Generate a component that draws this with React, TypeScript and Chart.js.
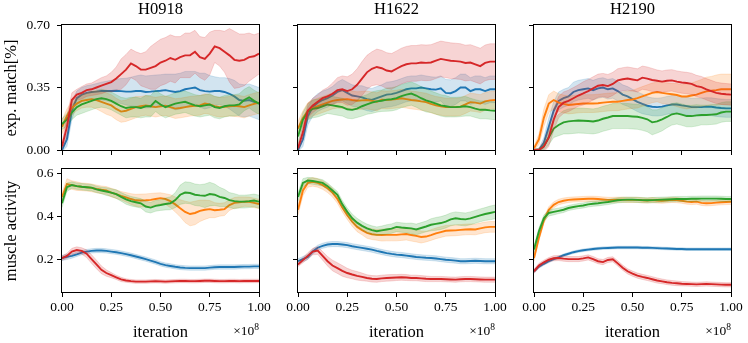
import React, { useEffect, useRef } from "react";
import { Chart, registerables } from "chart.js";
Chart.register(...registerables);

const FONT = '"Liberation Serif", "Times New Roman", serif';

const ITER = [0, 0.025, 0.05, 0.075, 0.1, 0.125, 0.15, 0.175, 0.2, 0.225, 0.25, 0.275, 0.3, 0.325, 0.35, 0.375, 0.4, 0.425, 0.45, 0.475, 0.5, 0.525, 0.55, 0.575, 0.6, 0.625, 0.65, 0.675, 0.7, 0.725, 0.75, 0.775, 0.8, 0.825, 0.85, 0.875, 0.9, 0.925, 0.95, 0.975, 1.0];
const X_TICKS = [0, 0.25, 0.5, 0.75, 1.0];
const EXP_TICKS = [0, 0.35, 0.7];
const MUSCLE_TICKS = [0.2, 0.4, 0.6];
const MODELS = ["H0918", "H1622", "H2190"];
const ROW_LABELS = ["exp. match[%]", "muscle activity"];

// ---------- H0918 exp. match ----------
const H0918_EXP_BLUE = [0.0, 0.06, 0.22, 0.29, 0.31, 0.32, 0.325, 0.327, 0.33, 0.33, 0.33, 0.332, 0.33, 0.327, 0.327, 0.33, 0.33, 0.325, 0.327, 0.33, 0.332, 0.335, 0.33, 0.325, 0.33, 0.34, 0.345, 0.35, 0.335, 0.33, 0.327, 0.33, 0.33, 0.325, 0.315, 0.3, 0.28, 0.275, 0.28, 0.27, 0.26];
const H0918_EXP_BLUE_SD = [0.01, 0.04, 0.05, 0.04, 0.04, 0.04, 0.04, 0.045, 0.05, 0.055, 0.06, 0.065, 0.07, 0.075, 0.08, 0.085, 0.09, 0.09, 0.09, 0.09, 0.09, 0.09, 0.095, 0.1, 0.1, 0.1, 0.095, 0.09, 0.095, 0.1, 0.09, 0.08, 0.075, 0.08, 0.085, 0.09, 0.09, 0.09, 0.09, 0.09, 0.09];
const H0918_EXP_ORANGE = [0.13, 0.19, 0.235, 0.26, 0.275, 0.28, 0.285, 0.28, 0.27, 0.26, 0.25, 0.23, 0.215, 0.22, 0.23, 0.24, 0.245, 0.25, 0.245, 0.24, 0.245, 0.248, 0.24, 0.232, 0.235, 0.24, 0.245, 0.248, 0.25, 0.26, 0.255, 0.245, 0.24, 0.242, 0.245, 0.248, 0.245, 0.24, 0.25, 0.258, 0.265];
const H0918_EXP_ORANGE_SD = [0.04, 0.04, 0.04, 0.04, 0.04, 0.04, 0.045, 0.05, 0.055, 0.06, 0.06, 0.06, 0.06, 0.06, 0.06, 0.06, 0.055, 0.055, 0.055, 0.055, 0.055, 0.055, 0.055, 0.055, 0.055, 0.055, 0.055, 0.055, 0.055, 0.055, 0.055, 0.055, 0.055, 0.055, 0.055, 0.06, 0.06, 0.06, 0.06, 0.06, 0.06];
const H0918_EXP_GREEN = [0.145, 0.17, 0.21, 0.24, 0.255, 0.265, 0.275, 0.285, 0.29, 0.285, 0.275, 0.26, 0.245, 0.235, 0.24, 0.24, 0.235, 0.245, 0.245, 0.275, 0.255, 0.24, 0.25, 0.26, 0.265, 0.27, 0.26, 0.25, 0.245, 0.25, 0.255, 0.24, 0.235, 0.245, 0.25, 0.25, 0.255, 0.28, 0.295, 0.275, 0.26];
const H0918_EXP_GREEN_SD = [0.03, 0.035, 0.04, 0.045, 0.05, 0.05, 0.05, 0.05, 0.05, 0.05, 0.05, 0.05, 0.05, 0.055, 0.055, 0.055, 0.055, 0.06, 0.06, 0.06, 0.06, 0.06, 0.06, 0.06, 0.06, 0.06, 0.06, 0.06, 0.06, 0.06, 0.06, 0.06, 0.06, 0.06, 0.06, 0.06, 0.06, 0.06, 0.06, 0.06, 0.06];
const H0918_EXP_RED = [0.02, 0.13, 0.28, 0.31, 0.32, 0.335, 0.34, 0.35, 0.36, 0.37, 0.38, 0.4, 0.425, 0.45, 0.485, 0.47, 0.45, 0.45, 0.46, 0.47, 0.49, 0.5, 0.515, 0.505, 0.52, 0.53, 0.53, 0.55, 0.52, 0.51, 0.54, 0.58, 0.57, 0.55, 0.53, 0.505, 0.5, 0.505, 0.52, 0.525, 0.54];
const H0918_EXP_RED_SD = [0.02, 0.06, 0.04, 0.03, 0.035, 0.035, 0.035, 0.04, 0.045, 0.045, 0.055, 0.065, 0.085, 0.085, 0.08, 0.08, 0.09, 0.1, 0.12, 0.13, 0.13, 0.13, 0.13, 0.13, 0.115, 0.125, 0.125, 0.12, 0.115, 0.12, 0.12, 0.09, 0.1, 0.115, 0.15, 0.16, 0.15, 0.145, 0.135, 0.12, 0.115];

// ---------- H1622 exp. match ----------
const H1622_EXP_BLUE = [0.0, 0.06, 0.19, 0.24, 0.265, 0.28, 0.29, 0.305, 0.325, 0.335, 0.32, 0.305, 0.3, 0.295, 0.285, 0.28, 0.29, 0.3, 0.31, 0.313, 0.32, 0.33, 0.34, 0.345, 0.345, 0.35, 0.345, 0.34, 0.338, 0.345, 0.32, 0.318, 0.33, 0.35, 0.35, 0.33, 0.34, 0.34, 0.33, 0.34, 0.34];
const H1622_EXP_BLUE_SD = [0.01, 0.04, 0.05, 0.05, 0.05, 0.05, 0.05, 0.05, 0.055, 0.06, 0.06, 0.06, 0.06, 0.065, 0.065, 0.065, 0.065, 0.065, 0.07, 0.07, 0.07, 0.07, 0.07, 0.07, 0.07, 0.07, 0.07, 0.07, 0.07, 0.07, 0.075, 0.075, 0.075, 0.075, 0.075, 0.075, 0.075, 0.075, 0.075, 0.075, 0.075];
const H1622_EXP_ORANGE = [0.12, 0.18, 0.22, 0.235, 0.245, 0.255, 0.265, 0.275, 0.28, 0.283, 0.285, 0.28, 0.276, 0.278, 0.28, 0.275, 0.27, 0.282, 0.28, 0.282, 0.285, 0.29, 0.285, 0.28, 0.277, 0.272, 0.268, 0.258, 0.25, 0.245, 0.24, 0.24, 0.24, 0.243, 0.255, 0.268, 0.265, 0.26, 0.272, 0.278, 0.28];
const H1622_EXP_ORANGE_SD = [0.04, 0.04, 0.045, 0.045, 0.045, 0.045, 0.045, 0.045, 0.045, 0.05, 0.05, 0.05, 0.05, 0.05, 0.05, 0.05, 0.05, 0.05, 0.05, 0.05, 0.05, 0.05, 0.05, 0.05, 0.05, 0.05, 0.05, 0.05, 0.05, 0.05, 0.05, 0.05, 0.05, 0.05, 0.05, 0.05, 0.05, 0.05, 0.05, 0.05, 0.05];
const H1622_EXP_GREEN = [0.075, 0.17, 0.215, 0.23, 0.235, 0.245, 0.255, 0.25, 0.245, 0.24, 0.228, 0.225, 0.232, 0.245, 0.255, 0.265, 0.272, 0.276, 0.282, 0.284, 0.29, 0.302, 0.31, 0.316, 0.305, 0.29, 0.278, 0.27, 0.26, 0.25, 0.245, 0.24, 0.24, 0.242, 0.245, 0.24, 0.232, 0.225, 0.225, 0.222, 0.22];
const H1622_EXP_GREEN_SD = [0.04, 0.04, 0.045, 0.05, 0.05, 0.05, 0.05, 0.05, 0.05, 0.05, 0.05, 0.05, 0.05, 0.055, 0.055, 0.06, 0.06, 0.06, 0.065, 0.065, 0.065, 0.065, 0.065, 0.065, 0.065, 0.065, 0.065, 0.06, 0.06, 0.06, 0.06, 0.055, 0.055, 0.055, 0.055, 0.05, 0.05, 0.05, 0.05, 0.05, 0.05];
const H1622_EXP_RED = [0.01, 0.1, 0.22, 0.25, 0.27, 0.29, 0.3, 0.315, 0.335, 0.34, 0.33, 0.34, 0.365, 0.4, 0.435, 0.455, 0.465, 0.458, 0.445, 0.44, 0.455, 0.47, 0.48, 0.485, 0.485, 0.49, 0.488, 0.49, 0.5, 0.51, 0.505, 0.5, 0.498, 0.495, 0.487, 0.49, 0.48, 0.47, 0.488, 0.495, 0.495];
const H1622_EXP_RED_SD = [0.02, 0.04, 0.04, 0.04, 0.04, 0.045, 0.05, 0.06, 0.07, 0.075, 0.08, 0.085, 0.09, 0.095, 0.095, 0.095, 0.1, 0.1, 0.1, 0.1, 0.1, 0.1, 0.1, 0.1, 0.1, 0.1, 0.1, 0.1, 0.1, 0.1, 0.1, 0.1, 0.1, 0.1, 0.1, 0.1, 0.1, 0.1, 0.1, 0.1, 0.1];

// ---------- H2190 exp. match ----------
const H2190_EXP_BLUE = [0, 0, 0.04, 0.13, 0.22, 0.275, 0.29, 0.3, 0.325, 0.335, 0.34, 0.345, 0.335, 0.345, 0.35, 0.34, 0.345, 0.33, 0.31, 0.3, 0.285, 0.27, 0.258, 0.248, 0.242, 0.24, 0.243, 0.25, 0.255, 0.255, 0.25, 0.246, 0.24, 0.24, 0.24, 0.243, 0.242, 0.238, 0.235, 0.233, 0.233];
const H2190_EXP_BLUE_SD = [0.005, 0.01, 0.03, 0.05, 0.05, 0.05, 0.05, 0.05, 0.055, 0.055, 0.055, 0.055, 0.055, 0.055, 0.055, 0.055, 0.055, 0.055, 0.055, 0.055, 0.055, 0.055, 0.055, 0.05, 0.05, 0.05, 0.05, 0.05, 0.05, 0.05, 0.05, 0.05, 0.05, 0.05, 0.05, 0.05, 0.05, 0.05, 0.05, 0.05, 0.05];
const H2190_EXP_ORANGE = [0.01, 0.06, 0.18, 0.26, 0.28, 0.265, 0.258, 0.252, 0.255, 0.258, 0.26, 0.26, 0.26, 0.262, 0.265, 0.268, 0.27, 0.27, 0.275, 0.28, 0.283, 0.29, 0.3, 0.31, 0.32, 0.325, 0.32, 0.316, 0.312, 0.308, 0.3, 0.3, 0.305, 0.31, 0.32, 0.328, 0.332, 0.335, 0.34, 0.34, 0.34];
const H2190_EXP_ORANGE_SD = [0.01, 0.03, 0.05, 0.05, 0.05, 0.05, 0.05, 0.05, 0.05, 0.05, 0.05, 0.05, 0.05, 0.05, 0.05, 0.05, 0.05, 0.05, 0.05, 0.05, 0.05, 0.055, 0.055, 0.055, 0.055, 0.055, 0.06, 0.06, 0.06, 0.065, 0.065, 0.07, 0.07, 0.075, 0.075, 0.08, 0.08, 0.085, 0.085, 0.085, 0.085];
const H2190_EXP_GREEN = [0, 0, 0.02, 0.07, 0.12, 0.14, 0.155, 0.16, 0.163, 0.165, 0.164, 0.162, 0.16, 0.165, 0.175, 0.182, 0.19, 0.19, 0.19, 0.19, 0.188, 0.186, 0.18, 0.172, 0.155, 0.16, 0.172, 0.185, 0.2, 0.205, 0.198, 0.19, 0.19, 0.194, 0.196, 0.196, 0.198, 0.2, 0.21, 0.215, 0.215];
const H2190_EXP_GREEN_SD = [0.005, 0.01, 0.02, 0.04, 0.05, 0.06, 0.065, 0.07, 0.07, 0.07, 0.07, 0.07, 0.07, 0.07, 0.07, 0.07, 0.07, 0.07, 0.07, 0.07, 0.07, 0.07, 0.07, 0.07, 0.07, 0.065, 0.065, 0.06, 0.06, 0.06, 0.06, 0.06, 0.06, 0.06, 0.055, 0.055, 0.055, 0.055, 0.055, 0.055, 0.055];
const H2190_EXP_RED = [0, 0, 0.02, 0.07, 0.17, 0.24, 0.265, 0.275, 0.29, 0.305, 0.317, 0.33, 0.345, 0.36, 0.364, 0.358, 0.37, 0.39, 0.396, 0.4, 0.395, 0.39, 0.405, 0.4, 0.392, 0.388, 0.383, 0.388, 0.39, 0.383, 0.378, 0.375, 0.37, 0.358, 0.352, 0.34, 0.33, 0.32, 0.315, 0.312, 0.31];
const H2190_EXP_RED_SD = [0.005, 0.01, 0.03, 0.05, 0.06, 0.06, 0.06, 0.06, 0.06, 0.06, 0.065, 0.065, 0.065, 0.065, 0.065, 0.065, 0.065, 0.065, 0.065, 0.065, 0.065, 0.065, 0.065, 0.065, 0.065, 0.06, 0.06, 0.06, 0.06, 0.06, 0.06, 0.06, 0.06, 0.06, 0.06, 0.06, 0.06, 0.06, 0.06, 0.06, 0.06];

// ---------- H0918 muscle activity ----------
const H0918_MUS_BLUE = [0.205, 0.21, 0.215, 0.222, 0.23, 0.235, 0.238, 0.24, 0.24, 0.238, 0.235, 0.232, 0.228, 0.223, 0.218, 0.212, 0.206, 0.2, 0.193, 0.186, 0.178, 0.172, 0.168, 0.164, 0.161, 0.159, 0.158, 0.158, 0.158, 0.158, 0.16, 0.162, 0.163, 0.163, 0.163, 0.163, 0.164, 0.165, 0.165, 0.166, 0.166];
const H0918_MUS_BLUE_SD = [0.012, 0.012, 0.011, 0.01, 0.01, 0.01, 0.01, 0.01, 0.01, 0.01, 0.01, 0.01, 0.01, 0.01, 0.01, 0.01, 0.01, 0.01, 0.01, 0.01, 0.01, 0.01, 0.01, 0.01, 0.01, 0.01, 0.01, 0.01, 0.01, 0.01, 0.01, 0.01, 0.01, 0.01, 0.01, 0.01, 0.01, 0.01, 0.01, 0.01, 0.01];
const H0918_MUS_ORANGE = [0.49, 0.55, 0.545, 0.54, 0.537, 0.535, 0.532, 0.527, 0.523, 0.52, 0.51, 0.503, 0.495, 0.488, 0.48, 0.474, 0.473, 0.474, 0.476, 0.48, 0.484, 0.48, 0.47, 0.455, 0.437, 0.42, 0.41, 0.415, 0.425, 0.43, 0.433, 0.428, 0.43, 0.433, 0.452, 0.462, 0.465, 0.468, 0.467, 0.462, 0.457];
const H0918_MUS_ORANGE_SD = [0.02, 0.025, 0.02, 0.02, 0.018, 0.018, 0.018, 0.018, 0.018, 0.018, 0.02, 0.02, 0.02, 0.022, 0.025, 0.028, 0.03, 0.03, 0.03, 0.028, 0.025, 0.025, 0.03, 0.035, 0.04, 0.05, 0.055, 0.055, 0.05, 0.045, 0.04, 0.035, 0.03, 0.03, 0.025, 0.025, 0.025, 0.022, 0.022, 0.022, 0.022];
const H0918_MUS_GREEN = [0.46, 0.535, 0.545, 0.54, 0.537, 0.535, 0.533, 0.525, 0.52, 0.515, 0.51, 0.503, 0.49, 0.478, 0.47, 0.465, 0.46, 0.445, 0.44, 0.448, 0.452, 0.457, 0.46, 0.475, 0.5, 0.51, 0.508, 0.5, 0.497, 0.495, 0.503, 0.5, 0.49, 0.485, 0.475, 0.47, 0.468, 0.468, 0.47, 0.473, 0.468];
const H0918_MUS_GREEN_SD = [0.02, 0.02, 0.015, 0.015, 0.015, 0.015, 0.015, 0.015, 0.015, 0.018, 0.018, 0.02, 0.02, 0.022, 0.022, 0.022, 0.022, 0.025, 0.025, 0.025, 0.025, 0.028, 0.03, 0.035, 0.045, 0.05, 0.05, 0.05, 0.05, 0.055, 0.055, 0.05, 0.045, 0.04, 0.035, 0.035, 0.03, 0.03, 0.03, 0.03, 0.03];
const H0918_MUS_RED = [0.205, 0.215, 0.235, 0.242, 0.238, 0.225, 0.2, 0.175, 0.15, 0.135, 0.125, 0.115, 0.105, 0.1, 0.097, 0.095, 0.095, 0.095, 0.096, 0.097, 0.096, 0.095, 0.096, 0.097, 0.098, 0.098, 0.097, 0.097, 0.098, 0.099, 0.099, 0.098, 0.097, 0.097, 0.098, 0.098, 0.097, 0.098, 0.098, 0.098, 0.098];
const H0918_MUS_RED_SD = [0.01, 0.012, 0.015, 0.015, 0.015, 0.018, 0.02, 0.02, 0.018, 0.015, 0.012, 0.01, 0.01, 0.008, 0.008, 0.008, 0.008, 0.008, 0.008, 0.008, 0.008, 0.008, 0.008, 0.008, 0.008, 0.008, 0.008, 0.008, 0.008, 0.008, 0.008, 0.008, 0.008, 0.008, 0.008, 0.008, 0.008, 0.008, 0.008, 0.008, 0.008];

// ---------- H1622 muscle activity ----------
const H1622_MUS_BLUE = [0.19, 0.2, 0.21, 0.235, 0.253, 0.262, 0.268, 0.27, 0.27, 0.268, 0.265, 0.26, 0.256, 0.252, 0.248, 0.244, 0.238, 0.233, 0.228, 0.224, 0.221, 0.219, 0.216, 0.213, 0.21, 0.208, 0.206, 0.205, 0.203, 0.2, 0.197, 0.195, 0.193, 0.19, 0.19, 0.191, 0.192, 0.191, 0.19, 0.19, 0.19];
const H1622_MUS_BLUE_SD = [0.012, 0.012, 0.012, 0.012, 0.012, 0.012, 0.012, 0.012, 0.012, 0.012, 0.012, 0.012, 0.012, 0.012, 0.012, 0.012, 0.012, 0.012, 0.012, 0.012, 0.012, 0.012, 0.012, 0.012, 0.012, 0.012, 0.012, 0.012, 0.012, 0.012, 0.012, 0.012, 0.012, 0.012, 0.012, 0.012, 0.012, 0.012, 0.012, 0.012, 0.012];
const H1622_MUS_ORANGE = [0.43, 0.52, 0.555, 0.56, 0.555, 0.545, 0.53, 0.51, 0.48, 0.44, 0.405, 0.375, 0.35, 0.335, 0.322, 0.316, 0.313, 0.312, 0.313, 0.313, 0.313, 0.315, 0.317, 0.312, 0.308, 0.303, 0.305, 0.312, 0.32, 0.326, 0.332, 0.333, 0.334, 0.336, 0.338, 0.339, 0.338, 0.343, 0.348, 0.35, 0.35];
const H1622_MUS_ORANGE_SD = [0.025, 0.025, 0.02, 0.02, 0.02, 0.02, 0.02, 0.02, 0.02, 0.02, 0.02, 0.022, 0.022, 0.022, 0.025, 0.025, 0.025, 0.028, 0.028, 0.028, 0.028, 0.028, 0.028, 0.028, 0.028, 0.028, 0.025, 0.025, 0.025, 0.025, 0.025, 0.025, 0.025, 0.025, 0.025, 0.025, 0.025, 0.025, 0.025, 0.025, 0.025];
const H1622_MUS_GREEN = [0.49, 0.555, 0.566, 0.564, 0.56, 0.555, 0.54, 0.52, 0.5, 0.455, 0.42, 0.39, 0.37, 0.355, 0.343, 0.335, 0.33, 0.334, 0.338, 0.342, 0.35, 0.347, 0.345, 0.343, 0.338, 0.345, 0.352, 0.36, 0.364, 0.368, 0.375, 0.385, 0.39, 0.387, 0.385, 0.39, 0.397, 0.404, 0.41, 0.415, 0.42];
const H1622_MUS_GREEN_SD = [0.02, 0.02, 0.015, 0.015, 0.015, 0.015, 0.015, 0.015, 0.015, 0.018, 0.018, 0.02, 0.02, 0.02, 0.02, 0.02, 0.02, 0.02, 0.022, 0.022, 0.022, 0.022, 0.022, 0.025, 0.025, 0.025, 0.025, 0.028, 0.03, 0.03, 0.03, 0.03, 0.03, 0.03, 0.03, 0.03, 0.03, 0.03, 0.03, 0.032, 0.032];
const H1622_MUS_RED = [0.175, 0.195, 0.215, 0.235, 0.24, 0.215, 0.19, 0.17, 0.158, 0.145, 0.135, 0.128, 0.122, 0.117, 0.112, 0.108, 0.107, 0.11, 0.112, 0.113, 0.114, 0.115, 0.114, 0.112, 0.112, 0.11, 0.108, 0.107, 0.107, 0.107, 0.106, 0.105, 0.104, 0.106, 0.107, 0.107, 0.106, 0.105, 0.104, 0.104, 0.104];
const H1622_MUS_RED_SD = [0.01, 0.012, 0.015, 0.015, 0.018, 0.02, 0.022, 0.025, 0.025, 0.025, 0.022, 0.02, 0.02, 0.018, 0.015, 0.015, 0.015, 0.015, 0.015, 0.015, 0.014, 0.014, 0.014, 0.013, 0.013, 0.013, 0.013, 0.012, 0.012, 0.012, 0.012, 0.012, 0.012, 0.012, 0.012, 0.012, 0.012, 0.012, 0.012, 0.012, 0.012];

// ---------- H2190 muscle activity ----------
const H2190_MUS_BLUE = [0.143, 0.165, 0.178, 0.19, 0.2, 0.208, 0.218, 0.225, 0.232, 0.237, 0.241, 0.244, 0.247, 0.249, 0.251, 0.252, 0.253, 0.254, 0.254, 0.254, 0.254, 0.254, 0.253, 0.253, 0.252, 0.251, 0.25, 0.249, 0.248, 0.247, 0.247, 0.246, 0.246, 0.246, 0.246, 0.246, 0.246, 0.246, 0.246, 0.246, 0.246];
const H2190_MUS_BLUE_SD = [0.008, 0.008, 0.007, 0.007, 0.006, 0.006, 0.006, 0.006, 0.006, 0.006, 0.006, 0.006, 0.006, 0.006, 0.006, 0.006, 0.006, 0.006, 0.006, 0.006, 0.006, 0.006, 0.006, 0.006, 0.006, 0.006, 0.006, 0.006, 0.006, 0.006, 0.006, 0.006, 0.006, 0.006, 0.006, 0.006, 0.006, 0.006, 0.006, 0.006, 0.006];
const H2190_MUS_ORANGE = [0.205, 0.3, 0.38, 0.43, 0.453, 0.466, 0.472, 0.476, 0.478, 0.479, 0.48, 0.481, 0.481, 0.48, 0.478, 0.476, 0.476, 0.477, 0.477, 0.476, 0.476, 0.476, 0.474, 0.473, 0.475, 0.473, 0.472, 0.474, 0.476, 0.475, 0.472, 0.468, 0.466, 0.468, 0.462, 0.46, 0.461, 0.463, 0.465, 0.466, 0.467];
const H2190_MUS_ORANGE_SD = [0.015, 0.015, 0.015, 0.014, 0.014, 0.013, 0.013, 0.012, 0.012, 0.012, 0.012, 0.012, 0.012, 0.012, 0.012, 0.012, 0.012, 0.012, 0.012, 0.012, 0.012, 0.012, 0.012, 0.012, 0.012, 0.012, 0.012, 0.012, 0.012, 0.012, 0.012, 0.012, 0.012, 0.012, 0.012, 0.012, 0.012, 0.012, 0.012, 0.012, 0.012];
const H2190_MUS_GREEN = [0.245, 0.33, 0.39, 0.415, 0.42, 0.425, 0.43, 0.438, 0.443, 0.447, 0.45, 0.455, 0.458, 0.46, 0.463, 0.466, 0.47, 0.474, 0.476, 0.477, 0.477, 0.476, 0.475, 0.474, 0.475, 0.476, 0.477, 0.478, 0.479, 0.48, 0.48, 0.48, 0.481, 0.481, 0.482, 0.482, 0.482, 0.482, 0.481, 0.48, 0.48];
const H2190_MUS_GREEN_SD = [0.015, 0.015, 0.015, 0.014, 0.014, 0.013, 0.013, 0.012, 0.012, 0.012, 0.012, 0.012, 0.012, 0.012, 0.012, 0.012, 0.012, 0.012, 0.012, 0.012, 0.012, 0.012, 0.012, 0.012, 0.012, 0.012, 0.012, 0.012, 0.012, 0.012, 0.012, 0.012, 0.012, 0.012, 0.012, 0.012, 0.012, 0.012, 0.012, 0.012, 0.012];
const H2190_MUS_RED = [0.143, 0.17, 0.185, 0.197, 0.204, 0.205, 0.202, 0.2, 0.2, 0.2, 0.203, 0.208, 0.2, 0.19, 0.186, 0.196, 0.199, 0.18, 0.16, 0.143, 0.132, 0.123, 0.117, 0.112, 0.106, 0.1, 0.096, 0.092, 0.089, 0.087, 0.085, 0.084, 0.083, 0.082, 0.083, 0.084, 0.083, 0.082, 0.081, 0.08, 0.08];
const H2190_MUS_RED_SD = [0.01, 0.01, 0.01, 0.01, 0.012, 0.012, 0.012, 0.012, 0.012, 0.012, 0.012, 0.012, 0.012, 0.012, 0.012, 0.012, 0.012, 0.012, 0.012, 0.012, 0.012, 0.012, 0.012, 0.012, 0.012, 0.012, 0.011, 0.011, 0.011, 0.011, 0.01, 0.01, 0.01, 0.01, 0.01, 0.01, 0.01, 0.01, 0.01, 0.01, 0.01];

const BLUE = "31,119,180";
const ORANGE = "255,127,14";
const GREEN = "44,160,44";
const RED = "214,39,40";

type Series = { color: string; mean: number[]; sd: number[] };

const EXP_SERIES: Series[][] = [
  [
    { color: BLUE, mean: H0918_EXP_BLUE, sd: H0918_EXP_BLUE_SD },
    { color: ORANGE, mean: H0918_EXP_ORANGE, sd: H0918_EXP_ORANGE_SD },
    { color: GREEN, mean: H0918_EXP_GREEN, sd: H0918_EXP_GREEN_SD },
    { color: RED, mean: H0918_EXP_RED, sd: H0918_EXP_RED_SD },
  ],
  [
    { color: BLUE, mean: H1622_EXP_BLUE, sd: H1622_EXP_BLUE_SD },
    { color: ORANGE, mean: H1622_EXP_ORANGE, sd: H1622_EXP_ORANGE_SD },
    { color: GREEN, mean: H1622_EXP_GREEN, sd: H1622_EXP_GREEN_SD },
    { color: RED, mean: H1622_EXP_RED, sd: H1622_EXP_RED_SD },
  ],
  [
    { color: BLUE, mean: H2190_EXP_BLUE, sd: H2190_EXP_BLUE_SD },
    { color: ORANGE, mean: H2190_EXP_ORANGE, sd: H2190_EXP_ORANGE_SD },
    { color: GREEN, mean: H2190_EXP_GREEN, sd: H2190_EXP_GREEN_SD },
    { color: RED, mean: H2190_EXP_RED, sd: H2190_EXP_RED_SD },
  ],
];

const MUS_SERIES: Series[][] = [
  [
    { color: BLUE, mean: H0918_MUS_BLUE, sd: H0918_MUS_BLUE_SD },
    { color: ORANGE, mean: H0918_MUS_ORANGE, sd: H0918_MUS_ORANGE_SD },
    { color: GREEN, mean: H0918_MUS_GREEN, sd: H0918_MUS_GREEN_SD },
    { color: RED, mean: H0918_MUS_RED, sd: H0918_MUS_RED_SD },
  ],
  [
    { color: BLUE, mean: H1622_MUS_BLUE, sd: H1622_MUS_BLUE_SD },
    { color: ORANGE, mean: H1622_MUS_ORANGE, sd: H1622_MUS_ORANGE_SD },
    { color: GREEN, mean: H1622_MUS_GREEN, sd: H1622_MUS_GREEN_SD },
    { color: RED, mean: H1622_MUS_RED, sd: H1622_MUS_RED_SD },
  ],
  [
    { color: BLUE, mean: H2190_MUS_BLUE, sd: H2190_MUS_BLUE_SD },
    { color: ORANGE, mean: H2190_MUS_ORANGE, sd: H2190_MUS_ORANGE_SD },
    { color: GREEN, mean: H2190_MUS_GREEN, sd: H2190_MUS_GREEN_SD },
    { color: RED, mean: H2190_MUS_RED, sd: H2190_MUS_RED_SD },
  ],
];

// layout (page pixels)
const COL_LEFT = [62, 298, 534];
const PLOT_W = 197;
const ROW_TOP = [25, 169];
const ROW_H = [125, 123];

const framePlugin = {
  id: "frame",
  afterDraw(chart: any) {
    const { ctx, chartArea } = chart;
    const { left, top, right, bottom } = chartArea;
    ctx.save();
    ctx.strokeStyle = "#000";
    ctx.lineWidth = 1;
    ctx.strokeRect(Math.round(left) - 0.5, Math.round(top) - 0.5, Math.round(right - left) + 1, Math.round(bottom - top) + 1);
    ctx.restore();
  },
};

type PanelProps = {
  left: number; top: number; width: number; height: number;
  series: Series[]; yMin: number; yMax: number; yTicks: number[]; decimals: number;
  showYLabels: boolean; showXLabels: boolean; yPad: number;
};

const L = 50, R = 16, T = 8;

function Panel(p: PanelProps) {
  const ref = useRef<HTMLCanvasElement | null>(null);
  const B = p.showXLabels ? 32 : 14;
  const cw = L + p.width + R;
  const ch = T + p.height + B;
  useEffect(() => {
    if (!ref.current) return;
    const datasets: any[] = [];
    let order = 1000;
    p.series.forEach((s) => {
      const lo = ITER.map((x, i) => ({ x, y: s.mean[i] - s.sd[i] }));
      const hi = ITER.map((x, i) => ({ x, y: s.mean[i] + s.sd[i] }));
      const mid = ITER.map((x, i) => ({ x, y: s.mean[i] }));
      datasets.push({ data: lo, borderColor: `rgba(${s.color},0.22)`, borderWidth: 0.8, pointRadius: 0, fill: false, order: order--, tension: 0 });
      datasets.push({ data: hi, borderColor: `rgba(${s.color},0.22)`, borderWidth: 0.8, pointRadius: 0, fill: "-1", backgroundColor: `rgba(${s.color},0.2)`, order: order--, tension: 0 });
      datasets.push({ data: mid, borderColor: `rgb(${s.color})`, borderWidth: 1.9, pointRadius: 0, fill: false, order: order--, tension: 0 });
    });
    const tickFont = { family: FONT, size: 13.5 };
    const chart = new Chart(ref.current, {
      type: "line",
      data: { datasets },
      plugins: [framePlugin],
      options: {
        animation: false,
        responsive: false,
        events: [],
        layout: { padding: { left: 0, top: T, right: R, bottom: 0 } },
        plugins: { legend: { display: false }, tooltip: { enabled: false }, title: { display: false } },
        scales: {
          x: {
            type: "linear", min: 0, max: 1,
            afterBuildTicks: (s: any) => { s.ticks = X_TICKS.map((v) => ({ value: v })); },
            afterFit: (s: any) => { s.height = B; s.paddingLeft = 0; s.paddingRight = 0; },
            ticks: {
              display: p.showXLabels, color: "#000", font: tickFont, padding: 2.5,
              maxRotation: 0, minRotation: 0, autoSkip: false,
              callback: (v: any) => Number(v).toFixed(2),
            },
            grid: { display: true, drawOnChartArea: false, drawTicks: true, tickLength: 5, tickColor: "#000", tickWidth: 1 },
            border: { display: false },
          },
          y: {
            type: "linear", min: p.yMin, max: p.yMax,
            afterBuildTicks: (s: any) => { s.ticks = p.yTicks.map((v) => ({ value: v })); },
            afterFit: (s: any) => { s.width = L; s.paddingTop = 0; s.paddingBottom = 0; },
            ticks: {
              display: p.showYLabels, color: "#000", font: tickFont, padding: p.yPad,
              autoSkip: false, callback: (v: any) => Number(v).toFixed(p.decimals),
            },
            grid: { display: true, drawOnChartArea: false, drawTicks: true, tickLength: 5, tickColor: "#000", tickWidth: 1 },
            border: { display: false },
          },
        },
      } as any,
    });
    return () => chart.destroy();
  }, []);
  return (
    <canvas
      ref={ref}
      width={cw}
      height={ch}
      style={{ position: "absolute", left: p.left - L, top: p.top - T, width: cw, height: ch }}
    />
  );
}

export default function App() {
  const textBase: any = { position: "absolute", fontFamily: FONT, color: "#000", lineHeight: 1, whiteSpace: "nowrap" };
  return (
    <div style={{ position: "absolute", left: 0, top: 0, width: 748, height: 343, background: "#fff", overflow: "hidden" }}>
      {MODELS.map((m, c) => (
        <React.Fragment key={m}>
          <Panel
            left={COL_LEFT[c]} top={ROW_TOP[0]} width={PLOT_W} height={ROW_H[0]}
            series={EXP_SERIES[c]} yMin={0} yMax={0.7} yTicks={EXP_TICKS} decimals={2}
            showYLabels={c === 0} showXLabels={false} yPad={7}
          />
          <Panel
            left={COL_LEFT[c]} top={ROW_TOP[1]} width={PLOT_W} height={ROW_H[1]}
            series={MUS_SERIES[c]} yMin={0.0465} yMax={0.62} yTicks={MUSCLE_TICKS} decimals={1}
            showYLabels={c === 0} showXLabels={true} yPad={3.5}
          />
          <div style={{ ...textBase, fontSize: 16.5, left: COL_LEFT[c] + PLOT_W / 2, top: 1, transform: "translateX(-50%)" }}>{m}</div>
          <div style={{ ...textBase, fontSize: 16.5, left: COL_LEFT[c] + PLOT_W / 2, top: 324, transform: "translateX(-50%)" }}>iteration</div>
          <div style={{ ...textBase, fontSize: 13.5, right: 748 - (COL_LEFT[c] + PLOT_W), top: 324 }}>
            ×10<span style={{ fontSize: 9.5, position: "relative", top: -5 }}>8</span>
          </div>
        </React.Fragment>
      ))}
      {ROW_LABELS.map((t, r) => (
        <div
          key={t}
          style={{ ...textBase, fontSize: 16.5, left: 11, top: ROW_TOP[r] + ROW_H[r] / 2, transform: "translate(-50%,-50%) rotate(-90deg)" }}
        >
          {t}
        </div>
      ))}
    </div>
  );
}
